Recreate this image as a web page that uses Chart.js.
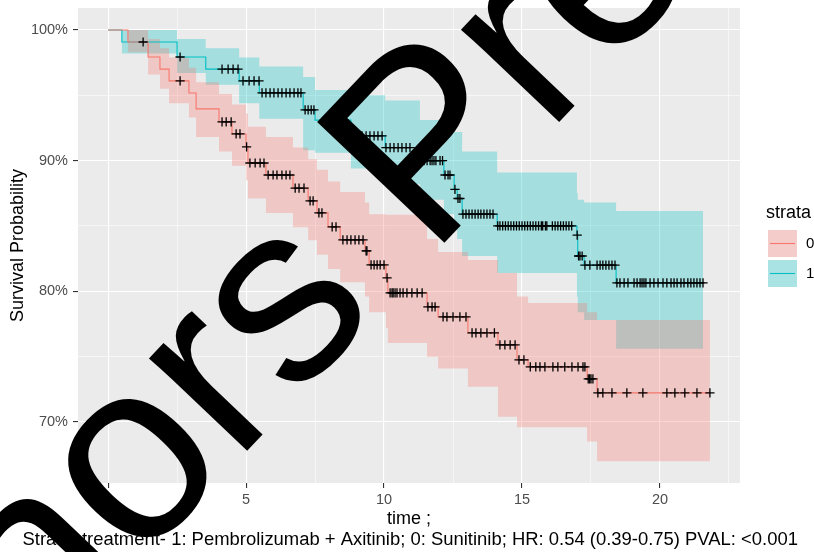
<!DOCTYPE html>
<html>
<head>
<meta charset="utf-8">
<script src="https://cdn.jsdelivr.net/npm/chart.js@4.4.1/dist/chart.umd.min.js"></script>
<style>
  html, body { margin: 0; padding: 0; background: #ffffff; }
  #wrap { width: 814px; height: 552px; position: relative; }
</style>
</head>
<body>
<div id="wrap"><canvas id="c" width="814" height="552"></canvas></div>
<script>
// ---------------- data ----------------
// strata 0 (Sunitinib)
const red_time  = [0, 0.72, 1.45, 1.88, 2.21, 2.93, 3.19, 4.02, 4.49, 5.0, 5.07, 5.72, 6.70, 7.25, 7.57, 7.97, 8.41, 9.31, 9.46, 10.07, 10.14, 11.56, 11.96, 13.04, 14.13, 14.82, 15.22, 17.36, 17.72, 21.81];
const red_surv  = [100, 99.08, 97.93, 97.0, 96.1, 95.18, 93.96, 92.96, 92.04, 91.05, 89.82, 88.9, 87.9, 86.92, 86.0, 84.93, 83.93, 83.09, 82.02, 81.03, 79.88, 78.81, 78.04, 76.82, 75.90, 74.75, 74.22, 73.30, 72.23, 72.23];
const red_lower = [100, 98.3, 96.6, 95.5, 94.4, 93.3, 91.8, 90.7, 89.6, 88.5, 87.1, 86.0, 84.9, 83.9, 82.8, 81.7, 80.7, 79.6, 78.4, 77.2, 76.05, 75.0, 74.1, 72.7, 70.4, 69.6, 69.6, 68.5, 67.0, 67.0];
const red_upper = [100, 100, 99.3, 98.6, 97.9, 97.1, 96.0, 95.1, 94.3, 93.6, 92.6, 91.8, 91.0, 90.1, 89.3, 88.4, 87.6, 86.8, 85.9, 85.85, 85.85, 84.0, 83.0, 82.4, 81.4, 79.6, 79.1, 78.4, 77.8, 77.8];
const red_cens_time = [2.61, 4.13, 4.28, 4.46, 4.64, 4.78, 5.02, 5.14, 5.33, 5.51, 5.65, 5.8, 5.98, 6.12, 6.3, 6.45, 6.59, 6.78, 6.92, 7.1, 7.32, 7.43, 7.64, 7.75, 8.12, 8.26, 8.51, 8.66, 8.8, 8.95, 9.09, 9.24, 9.35, 9.38, 9.53, 9.64, 9.75, 9.86, 10.0, 10.11, 10.22, 10.29, 10.33, 10.4, 10.47, 10.58, 10.69, 10.83, 11.01, 11.2, 11.38, 11.59, 11.74, 11.85, 12.14, 12.28, 12.5, 12.75, 12.97, 13.19, 13.33, 13.51, 13.73, 14.0, 14.2, 14.38, 14.57, 14.75, 14.89, 15.07, 15.3, 15.5, 15.65, 15.83, 16.12, 16.3, 16.55, 16.81, 17.03, 17.21, 17.28, 17.4, 17.45, 17.5, 17.57, 17.75, 17.93, 18.26, 18.8, 19.38, 20.25, 20.54, 20.9, 21.34, 21.81];
const red_cens_surv = [96.1, 92.96, 92.96, 92.96, 92.04, 92.04, 91.05, 89.82, 89.82, 89.82, 89.82, 88.9, 88.9, 88.9, 88.9, 88.9, 88.9, 87.9, 87.9, 87.9, 86.92, 86.92, 86.0, 86.0, 84.93, 84.93, 83.93, 83.93, 83.93, 83.93, 83.93, 83.93, 83.09, 83.09, 82.02, 82.02, 82.02, 82.02, 82.02, 81.03, 79.88, 79.88, 79.88, 79.88, 79.88, 79.88, 79.88, 79.88, 79.88, 79.88, 79.88, 78.81, 78.81, 78.81, 78.04, 78.04, 78.04, 78.04, 78.04, 76.82, 76.82, 76.82, 76.82, 76.82, 75.90, 75.90, 75.90, 75.90, 74.75, 74.75, 74.22, 74.22, 74.22, 74.22, 74.22, 74.22, 74.22, 74.22, 74.22, 74.22, 74.22, 73.30, 73.30, 73.30, 73.30, 72.23, 72.23, 72.23, 72.23, 72.23, 72.23, 72.23, 72.23, 72.23, 72.23];

// strata 1 (Pembrolizumab + Axitinib)
const teal_time  = [0, 0.5, 2.5, 3.54, 4.75, 5.48, 7.07, 7.5, 8.8, 10.04, 11.3, 12.17, 12.54, 12.65, 12.83, 14.10, 16.99, 17.02, 17.25, 18.41, 21.56];
const teal_surv  = [100, 99.08, 97.93, 97.0, 96.1, 95.18, 93.88, 93.1, 91.9, 91.0, 90.0, 88.9, 87.8, 87.1, 85.9, 85.0, 84.3, 82.7, 82.0, 80.64, 80.64];
const teal_lower = [100, 98.2, 96.7, 95.8, 94.4, 93.2, 90.8, 90.6, 89.4, 88.2, 87.0, 85.9, 84.7, 84.0, 82.7, 81.4, 79.6, 78.4, 77.8, 75.6, 75.6];
const teal_upper = [100, 100, 99.3, 98.6, 97.9, 97.2, 96.4, 95.4, 95.0, 94.6, 93.1, 92.9, 92.2, 92.2, 90.7, 89.1, 87.5, 87.0, 86.8, 86.15, 86.15];
const teal_cens_time = [1.27, 2.61, 4.13, 4.35, 4.53, 4.71, 4.89, 5.11, 5.29, 5.47, 5.58, 5.72, 5.87, 6.01, 6.16, 6.3, 6.45, 6.59, 6.74, 6.88, 6.99, 7.14, 7.25, 7.36, 7.46, 9.2, 9.35, 9.49, 9.64, 9.78, 9.93, 10.07, 10.22, 10.36, 10.51, 10.65, 10.8, 10.94, 11.45, 11.56, 11.67, 11.74, 11.81, 11.88, 12.03, 12.12, 12.21, 12.32, 12.39, 12.57, 12.68, 12.75, 12.86, 12.97, 13.08, 13.19, 13.3, 13.41, 13.51, 13.62, 13.73, 13.84, 13.95, 14.12, 14.2, 14.3, 14.4, 14.5, 14.6, 14.7, 14.8, 14.9, 15.0, 15.1, 15.2, 15.3, 15.4, 15.5, 15.6, 15.7, 15.75, 15.85, 15.9, 16.1, 16.2, 16.3, 16.4, 16.5, 16.6, 16.7, 16.8, 17.0, 17.05, 17.1, 17.18, 17.28, 17.46, 17.72, 17.83, 17.93, 18.04, 18.15, 18.26, 18.37, 18.44, 18.55, 18.7, 18.84, 19.06, 19.17, 19.28, 19.35, 19.42, 19.49, 19.64, 19.78, 19.93, 20.11, 20.25, 20.4, 20.51, 20.62, 20.76, 20.87, 21.01, 21.12, 21.23, 21.34, 21.45, 21.56];
const teal_cens_surv = [99.08, 97.93, 97.0, 97.0, 97.0, 97.0, 96.1, 96.1, 96.1, 96.1, 95.18, 95.18, 95.18, 95.18, 95.18, 95.18, 95.18, 95.18, 95.18, 95.18, 95.18, 93.88, 93.88, 93.88, 93.88, 91.9, 91.9, 91.9, 91.9, 91.9, 91.9, 91.0, 91.0, 91.0, 91.0, 91.0, 91.0, 91.0, 90.0, 90.0, 90.0, 90.0, 90.0, 90.0, 90.0, 90.0, 88.9, 88.9, 88.9, 87.8, 87.1, 87.1, 85.9, 85.9, 85.9, 85.9, 85.9, 85.9, 85.9, 85.9, 85.9, 85.9, 85.9, 85.0, 85.0, 85.0, 85.0, 85.0, 85.0, 85.0, 85.0, 85.0, 85.0, 85.0, 85.0, 85.0, 85.0, 85.0, 85.0, 85.0, 85.0, 85.0, 85.0, 85.0, 85.0, 85.0, 85.0, 85.0, 85.0, 85.0, 85.0, 84.3, 82.7, 82.7, 82.7, 82.0, 82.0, 82.0, 82.0, 82.0, 82.0, 82.0, 82.0, 82.0, 80.64, 80.64, 80.64, 80.64, 80.64, 80.64, 80.64, 80.64, 80.64, 80.64, 80.64, 80.64, 80.64, 80.64, 80.64, 80.64, 80.64, 80.64, 80.64, 80.64, 80.64, 80.64, 80.64, 80.64, 80.64, 80.64];

// axes
const x_major = [0, 5, 10, 15, 20];
const x_minor = [2.5, 7.5, 12.5, 17.5, 22.5];
const y_major = [70, 80, 90, 100];
const y_minor = [75, 85, 95];
const y_labels = ['70%', '80%', '90%', '100%'];
const strata_labels = ['0', '1'];

const caption_text = 'Strata: treatment- 1: Pembrolizumab + Axitinib; 0: Sunitinib; HR: 0.54 (0.39-0.75) PVAL: <0.001';
const watermark_text = 'Authors Preprint';

// ---------------- styling ----------------
const RED = '#F8766D', TEAL = '#00BFC4';
const RED_FILL = 'rgba(248,118,109,0.3)', TEAL_FILL = 'rgba(0,191,196,0.3)';
const FONT = '"Liberation Sans", Arial, sans-serif';

function pts(xs, ys) { return xs.map((x, i) => ({ x: x, y: ys[i] })); }

const bgPlugin = {
  id: 'panelBg',
  beforeDraw(chart) {
    const { ctx, chartArea: a } = chart;
    ctx.save();
    ctx.fillStyle = '#ffffff';
    ctx.fillRect(0, 0, chart.width, chart.height);
    ctx.fillStyle = '#EBEBEB';
    ctx.fillRect(a.left, a.top, a.right - a.left, a.bottom - a.top);
    ctx.restore();
  }
};

const decoPlugin = {
  id: 'deco',
  afterDraw(chart) {
    const { ctx, chartArea: a } = chart;
    ctx.save();
    // axis titles
    ctx.fillStyle = '#000';
    ctx.font = '18px ' + FONT;
    ctx.textAlign = 'center';
    ctx.textBaseline = 'middle';
    ctx.fillText('time ;', (a.left + a.right) / 2, 519);
    ctx.save();
    ctx.translate(18, (a.top + a.bottom) / 2);
    ctx.rotate(-Math.PI / 2);
    ctx.fillText('Survival Probability', 0, 0);
    ctx.restore();
    // caption
    ctx.font = '18.45px ' + FONT;
    ctx.textAlign = 'right';
    ctx.fillText(caption_text, 798, 540);
    // legend
    ctx.font = '18px ' + FONT;
    ctx.textAlign = 'left';
    ctx.fillText('strata', 766, 213);
    const keys = [[230, RED, RED_FILL], [260, TEAL, TEAL_FILL]];
    keys.forEach((k, i) => {
      const y = k[0];
      ctx.fillStyle = '#F2F2F2';
      ctx.fillRect(768, y, 29, 27);
      ctx.fillStyle = k[2];
      ctx.fillRect(768, y, 29, 27);
      ctx.strokeStyle = k[1];
      ctx.lineWidth = 1.1;
      ctx.beginPath();
      ctx.moveTo(770, y + 13.5);
      ctx.lineTo(795, y + 13.5);
      ctx.stroke();
      ctx.fillStyle = '#000';
      ctx.font = '15px ' + FONT;
      ctx.fillText(strata_labels[i], 806, y + 14);
    });
    // watermark
    ctx.fillStyle = '#000';
    ctx.font = '255px ' + FONT;
    ctx.textAlign = 'left';
    ctx.textBaseline = 'alphabetic';
    ctx.translate(430, 258);
    ctx.rotate(-46.5 * Math.PI / 180);
    const w = ctx.measureText('Authors ').width;
    ctx.fillText(watermark_text, -w, 0);
    ctx.restore();
  }
};

const bandCommon = { borderWidth: 0, pointRadius: 0, stepped: true, order: 3 };

const cfg = {
  type: 'line',
  data: {
    datasets: [
      Object.assign({ label: 'r_up', data: pts(red_time, red_upper), backgroundColor: RED_FILL, borderColor: 'transparent', fill: '+1' }, bandCommon),
      Object.assign({ label: 'r_lo', data: pts(red_time, red_lower), borderColor: 'transparent', fill: false }, bandCommon),
      Object.assign({ label: 't_up', data: pts(teal_time, teal_upper), backgroundColor: TEAL_FILL, borderColor: 'transparent', fill: '+1' }, bandCommon),
      Object.assign({ label: 't_lo', data: pts(teal_time, teal_lower), borderColor: 'transparent', fill: false }, bandCommon),
      { label: '0', data: pts(red_time, red_surv), borderColor: RED, borderWidth: 1.1, pointRadius: 0, stepped: true, fill: false, order: 2 },
      { label: '1', data: pts(teal_time, teal_surv), borderColor: TEAL, borderWidth: 1.1, pointRadius: 0, stepped: true, fill: false, order: 2 },
      { label: 'c0', data: pts(red_cens_time, red_cens_surv), showLine: false, pointStyle: 'cross', pointRadius: 4.6, pointBorderColor: '#000', pointBorderWidth: 1.3, borderColor: '#000', order: 1 },
      { label: 'c1', data: pts(teal_cens_time, teal_cens_surv), showLine: false, pointStyle: 'cross', pointRadius: 4.6, pointBorderColor: '#000', pointBorderWidth: 1.3, borderColor: '#000', order: 1 }
    ]
  },
  options: {
    responsive: false,
    animation: false,
    events: [],
    layout: { padding: { left: 0, right: 74, top: 8, bottom: 0 } },
    plugins: { legend: { display: false }, tooltip: { enabled: false }, filler: { propagate: false } },
    scales: {
      x: {
        type: 'linear', min: -1.09, max: 22.9,
        afterFit(s) { s.height = 69; s.paddingLeft = 0; s.paddingRight = 0; },
        afterBuildTicks(s) { s.ticks = x_major.concat(x_minor).sort((p, q) => p - q).map(v => ({ value: v })); },
        border: { display: false },
        grid: {
          color: '#ffffff',
          lineWidth: c => x_major.includes(c.tick.value) ? 1.1 : 0.55,
          tickColor: c => x_major.includes(c.tick.value) ? '#333333' : 'rgba(0,0,0,0)',
          tickLength: 5, tickWidth: 1.1
        },
        ticks: {
          autoSkip: false, maxRotation: 0, padding: 3, color: '#4D4D4D',
          font: { family: FONT, size: 14.5 },
          callback: v => x_major.includes(v) ? String(v) : ''
        }
      },
      y: {
        type: 'linear', min: 65.33, max: 101.68,
        afterFit(s) { s.width = 78; s.paddingTop = 0; s.paddingBottom = 0; },
        afterBuildTicks(s) { s.ticks = y_major.concat(y_minor).sort((p, q) => p - q).map(v => ({ value: v })); },
        border: { display: false },
        grid: {
          color: '#ffffff',
          lineWidth: c => y_major.includes(c.tick.value) ? 1.1 : 0.55,
          tickColor: c => y_major.includes(c.tick.value) ? '#333333' : 'rgba(0,0,0,0)',
          tickLength: 5, tickWidth: 1.1
        },
        ticks: {
          autoSkip: false, padding: 5, color: '#4D4D4D',
          font: { family: FONT, size: 14.5 },
          callback: v => { const i = y_major.indexOf(v); return i >= 0 ? y_labels[i] : ''; }
        }
      }
    }
  },
  plugins: [bgPlugin, decoPlugin]
};

new Chart(document.getElementById('c').getContext('2d'), cfg);
</script>
</body>
</html>
